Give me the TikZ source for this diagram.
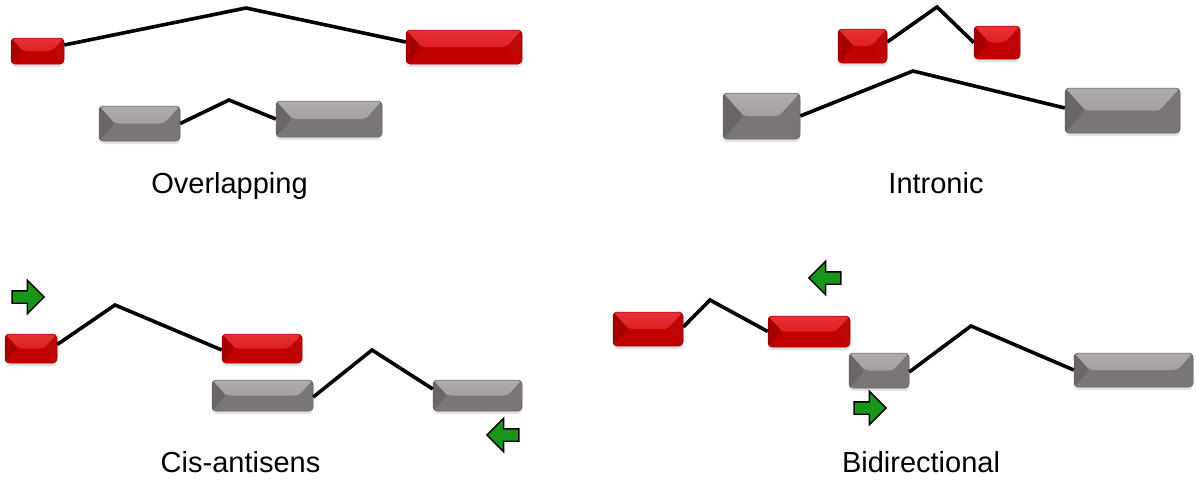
\documentclass[tikz,border=0pt]{standalone}
\usepackage{fontspec}
\setmainfont{Liberation Sans}
\usetikzlibrary{shapes.arrows,shadows,calc}

\definecolor{redtop}{HTML}{E83034}
\definecolor{redtoplow}{HTML}{D41212}
\definecolor{redbase}{HTML}{C20000}
\definecolor{redleft}{HTML}{A60000}
\definecolor{redright}{HTML}{BC0808}
\definecolor{rededge}{HTML}{8E0000}
\definecolor{graytop}{HTML}{B0ACAC}
\definecolor{graytoplow}{HTML}{989494}
\definecolor{graybase}{HTML}{7A7676}
\definecolor{grayleft}{HTML}{6A6666}
\definecolor{grayright}{HTML}{7A7676}
\definecolor{grayedge}{HTML}{5C5858}
\definecolor{arrowgreen}{HTML}{17961A}

\tikzset{
  % bevelled exon block: top/bottom trapezoids and side triangles
  bevel/.style n args={6}{
    rectangle, rounded corners=4pt, inner sep=0pt,
    draw=#6, line width=0.5pt, fill=#3,
    drop shadow={shadow xshift=0pt, shadow yshift=-3pt, opacity=0.22},
    path picture={
      \shade[top color=#1, bottom color=#2]
        let \p1=(path picture bounding box.south west),
            \p2=(path picture bounding box.north east),
            \n1={0.45*(\y2-\y1)}, \n2={0.5*(\y1+\y2)} in
        (\x1,\y2) -- (\x2,\y2) -- (\x2-\n1,\n2) -- (\x1+\n1,\n2) -- cycle;
      \fill[#4]
        let \p1=(path picture bounding box.south west),
            \p2=(path picture bounding box.north east),
            \n1={0.45*(\y2-\y1)}, \n2={0.5*(\y1+\y2)} in
        (\x1,\y1) -- (\x1,\y2) -- (\x1+\n1,\n2) -- cycle;
      \fill[#5]
        let \p1=(path picture bounding box.south west),
            \p2=(path picture bounding box.north east),
            \n1={0.45*(\y2-\y1)}, \n2={0.5*(\y1+\y2)} in
        (\x2,\y1) -- (\x2,\y2) -- (\x2-\n1,\n2) -- cycle;
    }
  },
  redbox/.style={bevel={redtop}{redtoplow}{redbase}{redleft}{redright}{rededge}},
  graybox/.style={bevel={graytop}{graytoplow}{graybase}{grayleft}{grayright}{grayedge}},
  intron/.style={line width=3.6pt, line join=miter, black},
  tss/.style={single arrow, draw=black, line width=1.4pt, fill=arrowgreen,
    inner xsep=0pt, inner ysep=5.5pt, minimum height=32pt, minimum width=32pt,
    single arrow head extend=10.5pt},
  caption/.style={anchor=base, font=\fontsize{29}{34}\selectfont}
}

\begin{document}
\begin{tikzpicture}[x=1pt, y=-1pt]
\useasboundingbox (0,0) rectangle (1196,479);

% ---- Overlapping ----
\node[redbox, minimum width=53pt, minimum height=26pt] (a1) at (37.5,51) {};
\node[redbox, minimum width=116pt, minimum height=34pt] (a2) at (464,47) {};
\node[graybox, minimum width=81pt, minimum height=35pt] (a3) at (139.5,123.5) {};
\node[graybox, minimum width=106pt, minimum height=36pt] (a4) at (329,119) {};
\coordinate (ap1) at (246,8);
\coordinate (ap2) at (229,100);
\draw[intron] ([yshift=6pt]a1.east) -- (ap1) -- ([yshift=5pt]a2.west);
\draw[intron] (a3.east) -- (ap2) -- (a4.west);
\node[caption] (la) at (229.5,193) {Overlapping};

% ---- Intronic ----
\node[redbox, minimum width=49pt, minimum height=34pt] (b1) at (862.5,46) {};
\node[redbox, minimum width=46pt, minimum height=33pt] (b2) at (997,42.5) {};
\node[graybox, minimum width=77pt, minimum height=46pt] (b3) at (761.5,116) {};
\node[graybox, minimum width=115pt, minimum height=45pt] (b4) at (1122.5,110.5) {};
\coordinate (bp1) at (937,7);
\coordinate (bp2) at (913,71);
\draw[intron] ([yshift=4pt]b1.east) -- (bp1) -- (b2.west);
\draw[intron] (b3.east) -- (bp2) -- ([yshift=2.5pt]b4.west);
\node[caption] (lb) at (936,193) {Intronic};

% ---- Cis-antisens ----
\node[redbox, minimum width=52pt, minimum height=29pt] (c1) at (31,348.5) {};
\node[redbox, minimum width=80pt, minimum height=29pt] (c2) at (262,348.5) {};
\node[graybox, minimum width=101pt, minimum height=31pt] (c3) at (262.5,395.5) {};
\node[graybox, minimum width=89pt, minimum height=31pt] (c4) at (477.5,395.5) {};
\coordinate (cp1) at (115,305);
\coordinate (cp2) at (372,350);
\draw[intron] ([yshift=4pt]c1.east) -- (cp1) -- ([yshift=-1.5pt]c2.west);
\draw[intron] ([yshift=-1.5pt]c3.east) -- (cp2) -- ([yshift=6.5pt]c4.west);
\node[tss] (c5) at (25,297) {};
\node[tss, shape border rotate=180] (c6) at (506,435) {};
\node[caption] (lc) at (240.5,472) {Cis-antisens};

% ---- Bidirectional ----
\node[redbox, minimum width=70pt, minimum height=34pt] (d1) at (648,329) {};
\node[redbox, minimum width=82pt, minimum height=31pt] (d2) at (809,331.5) {};
\node[graybox, minimum width=60pt, minimum height=35pt] (d3) at (879,370.5) {};
\node[graybox, minimum width=119pt, minimum height=34pt] (d4) at (1133.5,370) {};
\coordinate (dp1) at (710,300);
\coordinate (dp2) at (971,326);
\draw[intron] ([yshift=2pt]d1.east) -- (dp1) -- (d2.west);
\draw[intron] ([yshift=-1.5pt]d3.east) -- (dp2) -- (d4.west);
\node[tss, shape border rotate=180] (d5) at (828,278) {};
\node[tss] (d6) at (867,408) {};
\node[caption] (ld) at (921,472) {Bidirectional};
\end{tikzpicture}
\end{document}
